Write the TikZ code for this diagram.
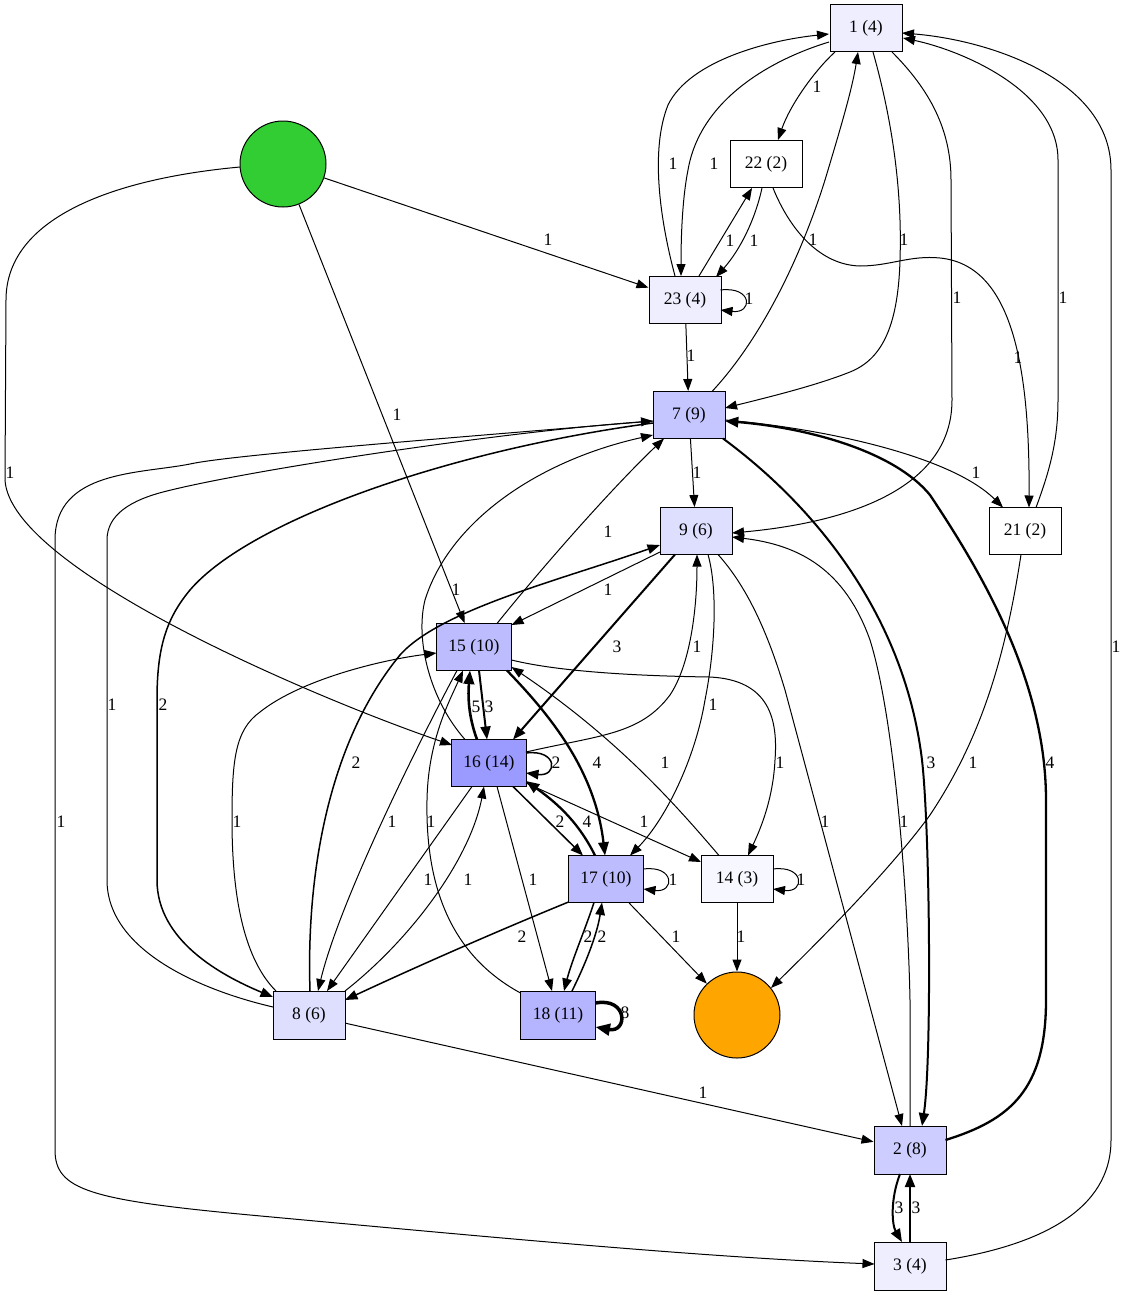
\documentclass[tikz,border=0pt]{standalone}
\usepackage{fontspec}
\setmainfont{Liberation Serif}
\usetikzlibrary{arrows.meta,calc}
\definecolor{fIII}{RGB}{247,247,255}
\definecolor{fIV}{RGB}{238,238,255}
\definecolor{fVI}{RGB}{222,222,255}
\definecolor{fVIII}{RGB}{205,205,255}
\definecolor{fIX}{RGB}{197,197,255}
\definecolor{fX}{RGB}{188,188,255}
\definecolor{fXI}{RGB}{180,180,255}
\definecolor{fXIV}{RGB}{155,155,255}
\definecolor{startgreen}{RGB}{50,205,50}
\definecolor{endorange}{RGB}{255,165,0}
\newcommand\gfont{\fontsize{17.5}{20}\selectfont}
\tikzset{
  box/.style={draw=black, line width=1pt, minimum width=72pt, minimum height=47pt, inner sep=0pt, font=\gfont},
  wbox/.style={box, minimum width=75pt},
  term/.style={circle, draw=black, line width=1pt, minimum size=86pt, inner sep=0pt},
  edg/.style={draw=black, line width=1pt, -{Triangle[length=11pt 1, width=8pt 1]}},
  ewb/.style={line width=1.5pt},
  ewc/.style={line width=2pt},
  ewd/.style={line width=2.3pt},
  ewe/.style={line width=2.6pt},
  ewh/.style={line width=3.5pt},
  lbl/.style={font=\gfont, inner sep=0pt, anchor=center}
}
\begin{document}
\begin{tikzpicture}[x=1pt,y=-1pt]
\useasboundingbox (0,0) rectangle (1127,1296);
% nodes
\node[box,fill=fIV] (n1) at (866,28) {1 (4)};
\node[box,fill=white] (n22) at (766,164) {22 (2)};
\node[box,fill=fIV] (n23) at (685,300) {23 (4)};
\node[box,fill=fIX] (n7) at (689,415) {7 (9)};
\node[box,fill=fVI] (n9) at (696,531) {9 (6)};
\node[box,fill=white] (n21) at (1025,531) {21 (2)};
\node[wbox,fill=fX] (n15) at (474,647) {15 (10)};
\node[wbox,fill=fXIV] (n16) at (489,763) {16 (14)};
\node[wbox,fill=fX] (n17) at (606,879) {17 (10)};
\node[box,fill=fIII] (n14) at (737,879) {14 (3)};
\node[box,fill=fVI,minimum height=48pt] (n8) at (309,1015) {8 (6)};
\node[wbox,fill=fXI,minimum height=48pt] (n18) at (558,1015) {18 (11)};
\node[box,fill=fVIII,minimum height=48pt] (n2) at (910,1150) {2 (8)};
\node[box,fill=fIV,minimum height=48pt] (n3) at (910,1266) {3 (4)};
\node[term,fill=startgreen] (st) at (283,164) {};
\node[term,fill=endorange] (en) at (737,1015) {};
% edges from start
\draw[edg] (st) -- (n23) node[lbl,at={(548,240)}] {1};
\draw[edg] (st) -- (n15) node[lbl,at={(397,415)}] {1};
\draw[edg] ($(st)+(-43,3)$) .. controls (120,178) and (6,215) .. (6,300) -- (5,480) .. controls (10,570) and (320,700) .. ($(n16)+(-37,-18)$) node[lbl,at={(10,473)}] {1};
% node 1
\draw[edg] ($(n1)+(-31,24)$) .. controls (815,70) and (790,105) .. ($(n22)+(12,-24)$) node[lbl,at={(817,87)}] {1};
\draw[edg] ($(n1)+(-37,14)$) .. controls (770,60) and (700,100) .. (688,170) .. controls (682,200) and (681,240) .. ($(n23)+(-4,-24)$) node[lbl,at={(714,164)}] {1};
\draw[edg] ($(n23)+(-10,-24)$) .. controls (660,220) and (650,150) .. (668,105) .. controls (690,60) and (770,40) .. ($(n1)+(-37,6)$) node[lbl,at={(673,164)}] {1};
\draw[edg] ($(n1)+(7,24)$) .. controls (895,130) and (902,200) .. (900,260) .. controls (898,330) and (880,360) .. (850,372) .. controls (815,386) and (765,398) .. ($(n7)+(36,-7)$) node[lbl,at={(904,240)}] {1};
\draw[edg] ($(n1)+(26,24)$) .. controls (930,90) and (951,130) .. (951,180) -- (952,400) .. controls (952,500) and (820,525) .. ($(n9)+(36,2)$) node[lbl,at={(957,298)}] {1};
\draw[edg] ($(n7)+(23,-23.5)$) .. controls (760,340) and (800,260) .. (825,180) .. controls (840,130) and (852,90) .. ($(n1)+(-8,24)$) node[lbl,at={(813,240)}] {1};
\draw[edg] ($(n21)+(11,-23.5)$) .. controls (1050,470) and (1058,440) .. (1058,400) -- (1058,160) .. controls (1058,90) and (960,50) .. ($(n1)+(37,10)$) node[lbl,at={(1063,298)}] {1};
\draw[edg] ($(n3)+(35.5,-6)$) .. controls (1040,1245) and (1111,1210) .. (1111,1140) -- (1111,170) .. controls (1111,80) and (990,40) .. ($(n1)+(36,5)$) node[lbl,at={(1116,647)}] {1};
% 22 / 23
\draw[edg] ($(n22)+(-4,24)$) .. controls (755,220) and (740,250) .. ($(n23)+(31,-23)$) node[lbl,at={(754,241)}] {1};
\draw[edg] ($(n23)+(14,-24)$) -- ($(n22)+(-14,24)$) node[lbl,at={(730,241)}] {1};
\draw[edg] ($(n22)+(7,24)$) .. controls (790,230) and (820,265) .. (860,266) .. controls (890,266) and (910,255) .. (940,258) .. controls (1010,265) and (1030,360) .. ($(n21)+(4,-23.5)$) node[lbl,at={(1018,358)}] {1};
\draw[edg] ($(n23)+(35.5,-10)$) .. controls (753,286) and (753,314) .. ($(n23)+(35.5,10)$) node[lbl,at={(749,299)}] {1};
\draw[edg] (n23) -- (n7) node[lbl,at={(691,356)}] {1};
% node 7
\draw[edg] (n7) -- (n9) node[lbl,at={(697,473)}] {1};
\draw[edg] ($(n7)+(36,5)$) .. controls (820,428) and (950,455) .. ($(n21)+(-22,-23.5)$) node[lbl,at={(976,473)}] {1};
\draw[edg,ewc] ($(n7)+(34,23.5)$) .. controls (820,510) and (905,620) .. (922,760) .. controls (930,830) and (932,1060) .. ($(n2)+(12,-24)$) node[lbl,at={(931,763)}] {3};
\draw[edg,ewd] ($(n2)+(35.5,-10)$) .. controls (1010,1120) and (1046,1090) .. (1046,1000) -- (1046,800) .. controls (1046,680) and (980,570) .. (930,495) .. controls (895,452) and (810,428) .. ($(n7)+(36,6)$) node[lbl,at={(1050,763)}] {4};
\draw[edg] ($(n7)+(-36,6)$) .. controls (450,438) and (230,455) .. (190,464) .. controls (140,474) and (55,470) .. (55,540) -- (55,1150) .. controls (55,1190) and (90,1200) .. (250,1215) .. controls (500,1238) and (700,1257) .. ($(n3)+(-35.5,-2)$) node[lbl,at={(61,822)}] {1};
\draw[edg] ($(n8)+(-36,-8)$) .. controls (200,990) and (107,950) .. (107,880) -- (107,540) .. controls (107,515) and (130,500) .. (167,491) .. controls (250,470) and (500,432) .. ($(n7)+(-36,6)$) node[lbl,at={(112,705)}] {1};
\draw[edg,ewb] ($(n7)+(-36,8)$) .. controls (450,450) and (250,520) .. (190,590) .. controls (165,620) and (157,650) .. (157,700) -- (157,880) .. controls (157,940) and (220,975) .. ($(n8)+(-36,-18)$) node[lbl,at={(163,705)}] {2};
\draw[edg] ($(n16)+(-24,-23.5)$) .. controls (430,700) and (415,640) .. (425,600) .. controls (450,520) and (540,460) .. ($(n7)+(-36,20)$) node[lbl,at={(456,590)}] {1};
\draw[edg] ($(n15)+(23,-23.5)$) .. controls (540,570) and (610,490) .. ($(n7)+(-25,23.5)$) node[lbl,at={(608,532)}] {1};
% node 9
\draw[edg] ($(n9)+(-36,21)$) -- ($(n15)+(37.5,-22)$) node[lbl,at={(608,590)}] {1};
\draw[edg,ewb] ($(n8)+(1,-24)$) .. controls (306,870) and (330,740) .. (400,655) .. controls (440,610) and (560,580) .. ($(n9)+(-36,14)$) node[lbl,at={(356,763)}] {2};
\draw[edg,ewc] ($(n9)+(-21,23.5)$) -- ($(n16)+(24,-23.5)$) node[lbl,at={(617,647)}] {3};
\draw[edg] ($(n16)+(37,-11)$) .. controls (600,735) and (640,735) .. (670,695) .. controls (690,665) and (697,610) .. ($(n9)+(1,23.5)$) node[lbl,at={(697,647)}] {1};
\draw[edg] ($(n9)+(12,23.5)$) .. controls (718,590) and (715,650) .. (705,700) .. controls (695,760) and (665,820) .. ($(n17)+(24,-23.5)$) node[lbl,at={(713,705)}] {1};
\draw[edg] ($(n9)+(22,23.5)$) .. controls (750,590) and (770,640) .. (785,690) -- ($(n2)+(-8,-24)$) node[lbl,at={(825,822)}] {1};
\draw[edg] ($(n2)+(0,-24)$) -- (910,1000) .. controls (908,900) and (895,720) .. (870,640) .. controls (845,570) and (800,545) .. ($(n9)+(36,6)$) node[lbl,at={(904,822)}] {1};
% node 15
\draw[edg,ewc] ($(n15)+(5,23.5)$) -- ($(n16)+(-2,-23.5)$) node[lbl,at={(489,707)}] {3};
\draw[edg,ewe] ($(n16)+(-12,-23.5)$) .. controls (468,715) and (468,695) .. ($(n15)+(-4,23.5)$) node[lbl,at={(476,707)}] {5};
\draw[edg,ewd] ($(n15)+(33,23.5)$) .. controls (550,715) and (595,770) .. ($(n17)+(-1,-23.5)$) node[lbl,at={(597,763)}] {4};
\draw[edg] ($(n15)+(37.5,13)$) .. controls (560,672) and (640,676) .. (710,677) .. controls (770,680) and (778,720) .. (775,760) .. controls (773,800) and (760,830) .. ($(n14)+(11,-23.5)$) node[lbl,at={(780,763)}] {1};
\draw[edg] ($(n14)+(-18,-23.5)$) .. controls (680,810) and (620,740) .. ($(n15)+(37.5,20)$) node[lbl,at={(665,763)}] {1};
\draw[edg] ($(n15)+(-17,23.5)$) .. controls (420,740) and (340,900) .. ($(n8)+(9,-24)$) node[lbl,at={(392,822)}] {1};
\draw[edg] ($(n8)+(-33,-24)$) .. controls (245,960) and (232,900) .. (232,820) .. controls (232,760) and (235,730) .. (260,712) .. controls (300,680) and (380,660) .. ($(n15)+(-37.5,6)$) node[lbl,at={(237,822)}] {1};
\draw[edg] ($(n18)+(-37.5,-22)$) .. controls (460,960) and (425,900) .. (427,800) .. controls (428,740) and (450,700) .. ($(n15)+(-11,23.5)$) node[lbl,at={(431,822)}] {1};
% node 16
\draw[edg] ($(n16)+(-17,23.5)$) -- ($(n8)+(18,-24)$) node[lbl,at={(428,880)}] {1};
\draw[edg] ($(n8)+(36,-24)$) .. controls (410,940) and (470,860) .. ($(n16)+(-5,23.5)$) node[lbl,at={(468,880)}] {1};
\draw[edg,ewb] ($(n16)+(37,-10)$) .. controls (558,749) and (558,777) .. ($(n16)+(37,10)$) node[lbl,at={(556,763)}] {2};
\draw[edg,ewb] ($(n16)+(24,23.5)$) -- ($(n17)+(-23,-23.5)$) node[lbl,at={(560,822)}] {2};
\draw[edg,ewd] ($(n17)+(-11,-23.5)$) .. controls (580,825) and (560,805) .. ($(n16)+(37,18)$) node[lbl,at={(587,822)}] {4};
\draw[edg] ($(n16)+(37,20)$) -- ($(n14)+(-36,-17)$) node[lbl,at={(644,822)}] {1};
\draw[edg] ($(n16)+(8,23.5)$) -- ($(n18)+(-6,-24)$) node[lbl,at={(533,880)}] {1};
% node 17
\draw[edg] ($(n17)+(37.5,-10)$) .. controls (675,865) and (675,893) .. ($(n17)+(37.5,10)$) node[lbl,at={(673,880)}] {1};
\draw[edg,ewb] ($(n17)+(-37.5,23)$) .. controls (500,930) and (420,965) .. ($(n8)+(36,-15)$) node[lbl,at={(522,937)}] {2};
\draw[edg,ewb] ($(n17)+(-12,23.5)$) .. controls (585,930) and (572,960) .. ($(n18)+(6,-24)$) node[lbl,at={(588,937)}] {2};
\draw[edg,ewb] ($(n18)+(14,-24)$) .. controls (585,965) and (597,935) .. ($(n17)+(-4,23.5)$) node[lbl,at={(602,937)}] {2};
\draw[edg] (n17) -- (en) node[lbl,at={(676,937)}] {1};
% node 14, 21
\draw[edg] ($(n14)+(36,-10)$) .. controls (805,865) and (805,893) .. ($(n14)+(36,10)$) node[lbl,at={(801,880)}] {1};
\draw[edg] (n14) -- (en) node[lbl,at={(741,937)}] {1};
\draw[edg] ($(n21)+(-4,23.5)$) .. controls (1005,660) and (980,740) .. (930,815) .. controls (890,870) and (820,940) .. ($(en)+(34,-27)$) node[lbl,at={(973,763)}] {1};
% node 8, 2, 3, 18
\draw[edg] (n8) -- (n2) node[lbl,at={(703,1093)}] {1};
\draw[edg,ewc] ($(n2)+(-10,24)$) .. controls (890,1200) and (892,1225) .. ($(n3)+(-8,-24)$) node[lbl,at={(899,1208)}] {3};
\draw[edg,ewc] ($(n3)+(0,-24)$) -- ($(n2)+(0,24)$) node[lbl,at={(916,1208)}] {3};
\draw[edg,ewh] ($(n18)+(37.5,-12)$) .. controls (628,997) and (628,1033) .. ($(n18)+(37.5,12)$) node[lbl,at={(625,1013)}] {8};
\end{tikzpicture}
\end{document}
